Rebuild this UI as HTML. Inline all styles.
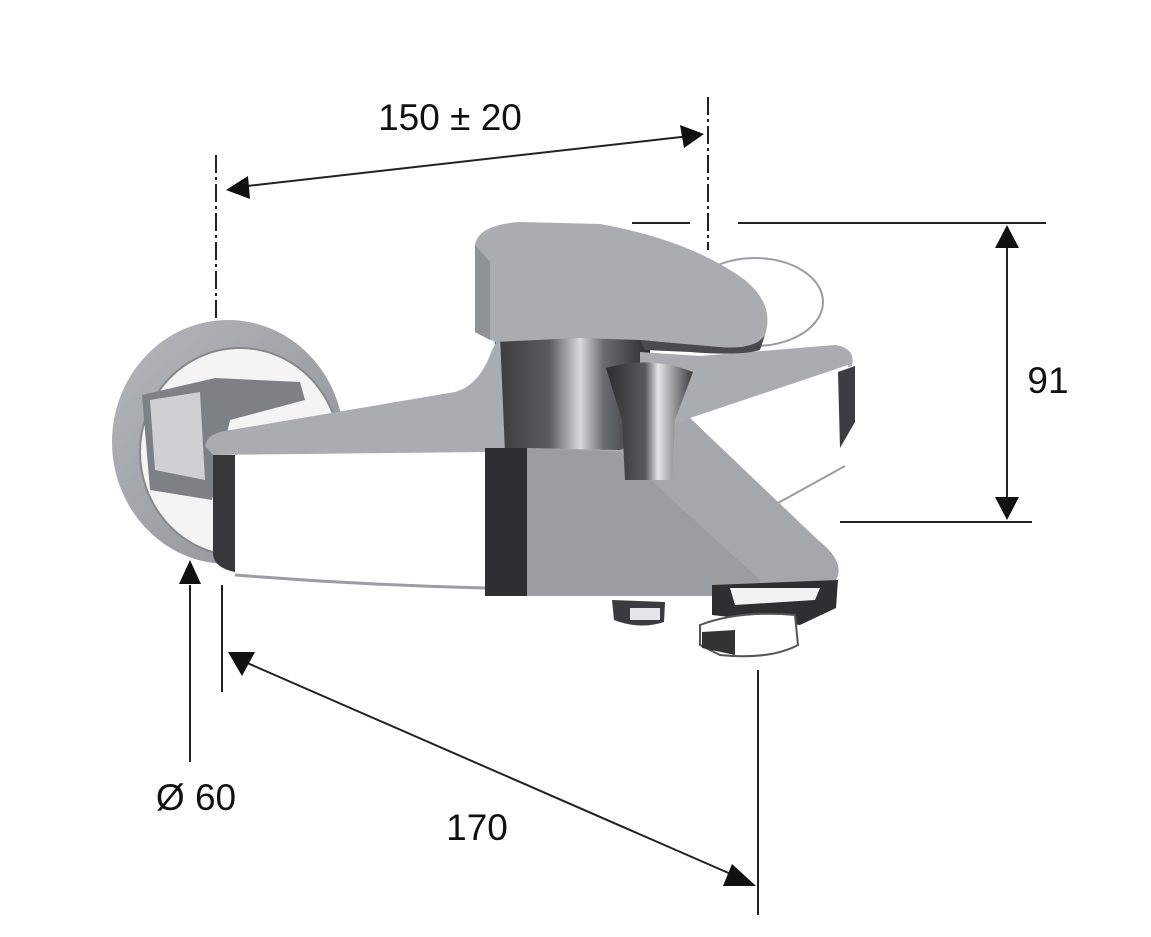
<!DOCTYPE html>
<html><head><meta charset="utf-8"><style>
html,body{margin:0;padding:0;background:#fff;}
svg{display:block;}
text{font-family:"Liberation Sans",Arial,sans-serif;fill:#111;}
</style></head><body>
<svg width="1151" height="937" viewBox="0 0 1151 937" xmlns="http://www.w3.org/2000/svg">
<defs>
<linearGradient id="cyl" x1="0" x2="1">
<stop offset="0" stop-color="#3a3a3c"/><stop offset="0.35" stop-color="#5a5b5e"/><stop offset="0.55" stop-color="#d8d9db"/><stop offset="0.7" stop-color="#6b6c70"/><stop offset="1" stop-color="#2c2c2e"/>
</linearGradient>
<linearGradient id="ros" x1="0" x2="1" y1="0" y2="1">
<stop offset="0" stop-color="#b3b6ba"/><stop offset="1" stop-color="#8e9196"/>
</linearGradient>
<linearGradient id="hdl" x1="0" x2="1">
<stop offset="0" stop-color="#2e2e30"/><stop offset="0.45" stop-color="#59595c"/><stop offset="0.6" stop-color="#e4e5e7"/><stop offset="1" stop-color="#3a3a3d"/>
</linearGradient>
</defs>

<g stroke="#222" stroke-width="2" fill="none">
<line x1="216" y1="155" x2="216" y2="318" stroke-dasharray="18,4,3,4"/>
<line x1="708" y1="97" x2="708" y2="250" stroke-dasharray="18,4,3,4"/>
<line x1="238" y1="187" x2="690" y2="136"/>
<line x1="632" y1="223" x2="690" y2="223"/>
<line x1="738" y1="223" x2="1046" y2="223"/>
<line x1="840" y1="522" x2="1032" y2="522"/>
<line x1="1007" y1="240" x2="1007" y2="505"/>
<line x1="190" y1="585" x2="190" y2="762"/>
<line x1="222" y1="585" x2="222" y2="692"/>
<line x1="758" y1="670" x2="758" y2="915"/>
<line x1="245" y1="662" x2="740" y2="878"/>
</g>
<g fill="#111">
<polygon points="226,190 248,176 250,199"/>
<polygon points="704,134 680,125 684,148"/>
<polygon points="1007,225 995,248 1019,248"/>
<polygon points="1007,520 995,497 1019,497"/>
<polygon points="190,560 179,584 201,584"/>
<polygon points="228,652 255,652 242,676"/>
<polygon points="756,886 732,864 723,886"/>
</g>

<text x="450" y="130" font-size="37" text-anchor="middle">150 ± 20</text>
<text x="1048" y="393" font-size="37" text-anchor="middle">91</text>
<text x="196" y="810" font-size="37" text-anchor="middle">Ø 60</text>
<text x="477" y="840" font-size="37" text-anchor="middle">170</text>

<ellipse cx="755" cy="302" rx="68" ry="44" fill="#fff" stroke="#9a9da2" stroke-width="2"/>
<ellipse cx="228" cy="442" rx="116" ry="122" fill="url(#ros)"/>
<ellipse cx="240" cy="452" rx="100" ry="104" fill="#f4f4f5" stroke="#888" stroke-width="2"/>
<path d="M142,395 L215,378 L300,382 L305,400 L230,420 L212,500 L150,490 Z" fill="#7d8085"/>
<path d="M150,400 L200,392 L205,480 L155,470 Z" fill="#cfd0d3"/>
<path d="M495,320 Q520,290 560,300 L650,320 L650,500 L495,500 Z" fill="url(#cyl)"/>
<path d="M205,446 Q207,434 225,431 L455,392 Q480,385 492,350 L500,335 L505,452 L215,457 Z" fill="#a9acb1"/>
<path d="M640,352 L700,356 L835,345 Q856,348 852,366 L690,420 L640,440 Z" fill="#a9acb1"/>
<path d="M690,418 L848,365 L848,465 L778,503 Z" fill="#fff"/>
<line x1="778" y1="503" x2="845" y2="466" stroke="#9a9da2" stroke-width="2"/>
<path d="M838,372 L855,366 L855,422 L840,448 Z" fill="#3d3d40"/>
<path d="M527,448 L620,450 L690,418 L818,540 Q846,562 836,580 L760,592 L527,596 Z" fill="#a4a7ac"/>
<path d="M527,448 L620,452 L760,580 L760,596 L527,596 Z" fill="#9a9da2"/>
<path d="M475,245 Q478,225 520,222 L600,224 Q690,240 745,280 Q775,305 765,335 Q755,350 720,347 L640,340 L580,338 L495,342 L475,332 Z" fill="#a9acb1"/>
<path d="M475,245 L490,262 L490,340 L475,332 Z" fill="#8d9095"/>
<path d="M640,340 L720,347 Q755,350 765,335 L760,350 Q740,356 690,352 L645,350 Z" fill="#4a4a4d"/>
<path d="M606,368 Q650,355 693,372 L675,420 L672,480 L625,480 L622,420 Z" fill="url(#hdl)"/>
<path d="M213,455 L485,452 L485,585 L240,575 Q215,568 213,555 Z" fill="#fff"/>
<path d="M235,575 Q360,585 485,588" fill="none" stroke="#9a9da2" stroke-width="3"/>
<path d="M213,455 L235,455 L235,572 Q215,568 213,555 Z" fill="#38383b"/>
<rect x="485" y="448" width="42" height="148" fill="#2f2f31"/>
<path d="M712,585 L838,580 L836,608 L800,625 L712,615 Z" fill="#2f2f31"/>
<path d="M730,588 L820,588 L815,600 L735,605 Z" fill="#f2f2f3"/>
<path d="M700,625 Q740,610 795,615 L798,645 Q770,660 720,655 L700,645 Z" fill="#fff" stroke="#555" stroke-width="2"/>
<path d="M702,632 L735,630 L735,655 L702,648 Z" fill="#333"/>
<path d="M612,600 L665,602 L664,622 Q640,630 614,620 Z" fill="#3b3b3e"/>
<path d="M630,608 L660,608 L660,620 L630,620 Z" fill="#e6e6e8"/>
</svg>
</body></html>
